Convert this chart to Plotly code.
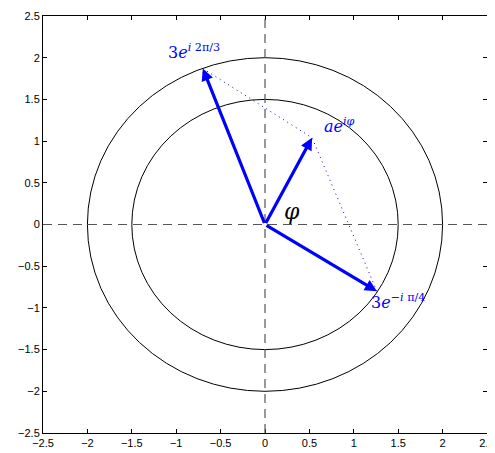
import plotly.graph_objects as go

# data
tick_vals = [-2.5, -2, -1.5, -1, -0.5, 0, 0.5, 1, 1.5, 2, 2.5]
tick_text = ["\u22122.5", "\u22122", "\u22121.5", "\u22121", "\u22120.5", "0", "0.5", "1", "1.5", "2", "2.5"]
circle_radii = [1.5, 2.0]
vec_names = ["v1", "v2", "v3"]
vec_x = [-0.70, 0.53, 1.26]
vec_y = [1.87, 1.04, -0.80]
label_text = ["3<i>e</i><sup><i>i</i> 2π/3</sup>", "<i>ae<sup>iφ</sup></i>", "3<i>e</i><sup>−<i>i</i> π/4</sup>"]
label_x = [-0.80, 0.84, 1.50]
label_y = [2.08, 1.19, -0.92]
dotted_x = [vec_x[0], vec_x[1], vec_x[2]]
dotted_y = [vec_y[0], vec_y[1], vec_y[2]]

fig = go.Figure()

# dotted connecting lines
fig.add_trace(go.Scatter(x=dotted_x, y=dotted_y, mode="lines",
                         line=dict(color="blue", width=1, dash="1px,4px"),
                         hoverinfo="skip", showlegend=False))

shapes = []
for r in circle_radii:
    shapes.append(dict(type="circle", xref="x", yref="y", x0=-r, y0=-r, x1=r, y1=r,
                       line=dict(color="black", width=1)))
shapes.append(dict(type="line", xref="x", yref="y", x0=-2.5, x1=2.5, y0=0, y1=0,
                   line=dict(color="#555555", width=1.2, dash="9px,6px")))
shapes.append(dict(type="line", xref="x", yref="y", x0=0, x1=0, y0=-2.5, y1=2.5,
                   line=dict(color="#555555", width=1.2, dash="9px,6px")))

annotations = []
for vx, vy in zip(vec_x, vec_y):
    annotations.append(dict(x=vx, y=vy, ax=0, ay=0, xref="x", yref="y", axref="x", ayref="y",
                            showarrow=True, arrowhead=2, arrowsize=0.75, arrowwidth=3.2,
                            arrowcolor="blue", standoff=0, startstandoff=0, text=""))
for t, lx, ly in zip(label_text, label_x, label_y):
    annotations.append(dict(x=lx, y=ly, xref="x", yref="y", text=t, showarrow=False,
                            font=dict(family="DejaVu Serif", size=16, color="blue")))
annotations.append(dict(x=0.30, y=0.16, xref="x", yref="y", text="<i>φ</i>", showarrow=False,
                        font=dict(family="DejaVu Serif", size=22, color="black")))

axis_common = dict(range=[-2.5, 2.5], tickvals=tick_vals, ticktext=tick_text,
                   ticks="inside", ticklen=4, tickwidth=1, tickcolor="black",
                   showline=True, linecolor="black", linewidth=1, mirror="ticks",
                   showgrid=False, zeroline=False, automargin=False,
                   ticklabeloverflow="allow",
                   tickfont=dict(family="Liberation Sans", size=11, color="black"))

# page body has an 8px margin, so the figure is sized to fit the 495x453 window
fig.update_layout(
    width=487, height=445,
    margin=dict(l=35, r=8, t=8, b=20, autoexpand=False),
    plot_bgcolor="white", paper_bgcolor="white",
    xaxis=dict(**axis_common),
    yaxis=dict(**axis_common),
    shapes=shapes, annotations=annotations,
    showlegend=False,
)

fig.write_html("out.html")
